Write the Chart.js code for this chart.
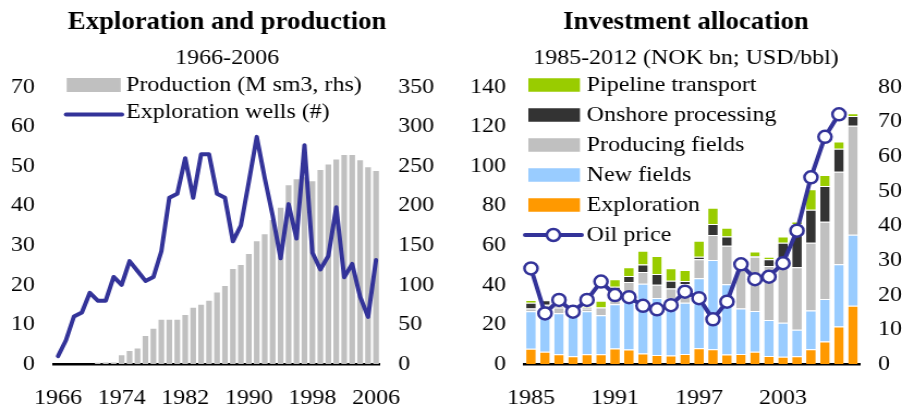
<!DOCTYPE html>
<html><head><meta charset="utf-8">
<script src="https://cdn.jsdelivr.net/npm/chart.js@4.4.1/dist/chart.umd.min.js"></script>
<style>
html,body{margin:0;padding:0;background:#fff;}
#wrap{position:relative;width:902px;height:414px;overflow:hidden;background:#fff;}
canvas{position:absolute;top:0;}
</style></head><body>
<div id="wrap">
<canvas id="c1" width="414" height="414" style="left:0px;width:451px;height:414px"></canvas>
<canvas id="c2" width="414" height="414" style="left:451px;width:451px;height:414px"></canvas>
</div>
<script>
// ---------- Left chart data ----------
const years1 = ['1966','1967','1968','1969','1970','1971','1972','1973','1974','1975',
  '1976','1977','1978','1979','1980','1981','1982','1983','1984','1985','1986','1987',
  '1988','1989','1990','1991','1992','1993','1994','1995','1996','1997','1998','1999',
  '2000','2001','2002','2003','2004','2005','2006'];
const production = [0,0,0,0,0,1.5,2,2,11,16.5,19.5,35.5,44.5,56,56,56,62,71,75,80,90.5,98.5,
  120,125,139,155,164,182,197.5,226,233.5,236,231,245,252,258.5,264,264,257.5,248.5,244];
const wells = [2,6,12,13,18,16,16,22,20,26,23.5,21,22,28.5,42,43,52,42,53,53,43,42,
  31,35,46,57.4,47,37.5,26.7,40.4,31.7,55.3,28.1,23.9,27.3,39.6,21.9,25.3,17,11.9,26.3];
const leftTickLabels = ['1966','1974','1982','1990','1998','2006'];

// ---------- Right chart data ----------
const years2 = ['1985','1986','1987','1988','1989','1990','1991','1992','1993','1994','1995',
  '1996','1997','1998','1999','2000','2001','2002','2003','2004','2005','2006','2007','2008'];
const exploration = [7.7,6.2,4.9,3.9,4.9,4.9,7.8,7.3,5.3,4.6,4.3,5.1,7.9,7.4,4.8,5.1,6.2,4.0,3.7,3.9,7.4,11.4,18.9,29.4];
const newFields   = [18.9,21.8,20.7,22.6,21.7,19.7,22.4,24.7,35.3,28.8,28.7,25.9,35.4,45.2,35.5,23.0,20.6,18.2,17.2,13.4,19.6,21.4,31.5,35.9];
const producing   = [1.5,2.0,2.9,1.5,1.5,3.9,6.3,9.5,5.9,6.7,5.2,9.3,9.6,12.6,19.5,20.9,27.4,27.3,27.5,31.6,34.3,39.1,46.8,55.1];
const onshore     = [2.9,2.2,0.5,0.5,0.5,0,2.6,3.0,3.8,5.4,3.9,1.7,1.3,5.5,4.6,0.5,0.3,3.4,12.9,21.9,16.7,18.1,11.6,5.0];
const pipeline    = [1.3,0.3,0.3,0.3,0.3,3.5,3.7,4.4,6.9,9.1,6.3,5.5,8.1,8.3,4.5,0.5,2.3,1.3,3.1,1.2,10.3,5.5,3.6,1.3];
const oilPrice    = [27.6,14.6,18.5,15.1,18.5,23.8,19.9,19.3,16.8,15.8,17.0,20.9,19.0,12.9,18.0,28.8,24.5,25.2,29.1,38.5,53.9,65.6,72.1,null];
const rightTickLabels = ['1985','1991','1997','2003'];

const F = "'Liberation Serif','Times New Roman',serif";
const tickFont = {family: F, size: 22};

const legendPlugin = {
  id: 'customLegend',
  afterDraw(chart, args, o) {
    const ctx = chart.ctx;
    ctx.save();
    ctx.font = o.fontSize + 'px ' + F;
    ctx.textBaseline = 'middle';
    ctx.textAlign = 'left';
    o.items.forEach((idx, i) => {
      const ds = chart.data.datasets[idx];
      const cy = o.y + i * o.rowH;
      let dy = 0;
      if (ds.type === 'line') {
        dy = o.lineTextDy;
        ctx.strokeStyle = ds.borderColor;
        ctx.lineWidth = ds.borderWidth;
        ctx.lineCap = 'round';
        ctx.beginPath();
        ctx.moveTo(o.lineX, cy); ctx.lineTo(o.lineX + o.lineW, cy); ctx.stroke();
        if (ds.pointRadius > 0) {
          ctx.beginPath();
          ctx.arc(o.lineX + o.lineW / 2, cy, ds.pointRadius, 0, Math.PI * 2);
          ctx.fillStyle = ds.pointBackgroundColor;
          ctx.fill();
          ctx.lineWidth = ds.pointBorderWidth;
          ctx.strokeStyle = ds.pointBorderColor;
          ctx.stroke();
        }
      } else {
        ctx.fillStyle = ds.backgroundColor;
        ctx.fillRect(o.x, cy - o.boxH / 2, o.boxW, o.boxH);
      }
      ctx.fillStyle = '#000';
      ctx.fillText(ds.label, o.textX, cy + dy);
    });
    ctx.restore();
  }
};

function tickCb(list) {
  return function(v) {
    const lab = this.getLabelForValue(v);
    return list.includes(lab) ? lab : '';
  };
}

const noGrid = {display: false, drawTicks: false};
const titleFont = {family: F, size: 24.5, weight: 'bold'};

new Chart(document.getElementById('c1'), {
  data: {
    labels: years1,
    datasets: [
      {type: 'line', label: 'Exploration wells (#)', data: wells, yAxisID: 'y',
       borderColor: '#333399', borderWidth: 4, pointRadius: 0, tension: 0,
       borderJoinStyle: 'round', borderCapStyle: 'round', order: 0},
      {type: 'bar', label: 'Production (M sm3, rhs)', data: production, yAxisID: 'y1',
       backgroundColor: '#C0C0C0', barPercentage: 0.72, categoryPercentage: 1, order: 1}
    ]
  },
  options: {
    responsive: false, animation: false,
    layout: {padding: {left: 3, right: 0, top: 0, bottom: 2}},
    plugins: {
      legend: {display: false}, tooltip: {enabled: false},
      title: {display: true, text: 'Exploration and production', color: '#000',
              font: titleFont, padding: {top: 7.5, bottom: 8.2}},
      subtitle: {display: true, text: '1966-2006', color: '#000',
              font: {family: F, size: 22}, padding: {top: 0, bottom: 15.5}},
      customLegend: {items: [1, 0], x: 61.2, y: 85, rowH: 29.5, boxW: 49.6, boxH: 14,
              lineX: 60.6, lineW: 51.4, textX: 115.7, lineTextDy: -2, fontSize: 22}
    },
    scales: {
      x: {grid: noGrid, border: {display: true, color: '#000', width: 2.5},
          ticks: {autoSkip: false, maxRotation: 0, minRotation: 0, padding: 21, font: tickFont, color: '#000',
                  callback: tickCb(leftTickLabels)},
          afterFit(s) { s.height = 48; }},
      y: {position: 'left', min: 0, max: 70, grid: noGrid, border: {display: false},
          ticks: {stepSize: 10, padding: 17.5, font: tickFont, color: '#000'},
          afterFit(s) { s.width = 46.6; }},
      y1: {position: 'right', min: 0, max: 350, grid: noGrid, border: {display: false},
          ticks: {stepSize: 50, padding: 16.8, font: tickFont, color: '#000'},
          afterFit(s) { s.width = 65.2; }}
    }
  },
  plugins: [legendPlugin]
});

const barCommon = {type: 'bar', yAxisID: 'y', barPercentage: 0.68, categoryPercentage: 1,
  borderColor: '#ffffff', borderWidth: {top: 1, left: 0, right: 0, bottom: 0}, borderSkipped: 'start', order: 1};

new Chart(document.getElementById('c2'), {
  data: {
    labels: years2,
    datasets: [
      Object.assign({label: 'Exploration', data: exploration, backgroundColor: '#FF9900'}, barCommon),
      Object.assign({label: 'New fields', data: newFields, backgroundColor: '#99CCFF'}, barCommon),
      Object.assign({label: 'Producing fields', data: producing, backgroundColor: '#C0C0C0'}, barCommon),
      Object.assign({label: 'Onshore processing', data: onshore, backgroundColor: '#333333'}, barCommon),
      Object.assign({label: 'Pipeline transport', data: pipeline, backgroundColor: '#99CC00'}, barCommon),
      {type: 'line', label: 'Oil price', data: oilPrice, yAxisID: 'y1',
       borderColor: '#333399', borderWidth: 4, tension: 0,
       pointRadius: 6, pointBackgroundColor: '#ffffff', pointBorderColor: '#333399', pointBorderWidth: 2.5,
       order: 0}
    ]
  },
  options: {
    responsive: false, animation: false,
    layout: {padding: {left: 17.4, right: 0, top: 0, bottom: 2}},
    plugins: {
      legend: {display: false}, tooltip: {enabled: false},
      title: {display: true, text: 'Investment allocation', color: '#000',
              font: titleFont, padding: {top: 7.5, bottom: 8.2}},
      subtitle: {display: true, text: '1985-2012 (NOK bn; USD/bbl)', color: '#000',
              font: {family: F, size: 22}, padding: {top: 0, bottom: 15.5}},
      customLegend: {items: [4, 3, 2, 1, 0, 5], x: 71, y: 85, rowH: 30, boxW: 47.4, boxH: 13.5,
              lineX: 68, lineW: 52, textX: 124.6, lineTextDy: 0, fontSize: 22}
    },
    scales: {
      x: {stacked: true, grid: noGrid, border: {display: true, color: '#000', width: 2.5},
          ticks: {autoSkip: false, maxRotation: 0, minRotation: 0, padding: 21, font: tickFont, color: '#000',
                  callback: tickCb(rightTickLabels)},
          afterFit(s) { s.height = 48; }},
      y: {stacked: true, position: 'left', min: 0, max: 140, grid: noGrid, border: {display: false},
          ticks: {stepSize: 20, padding: 16.5, font: tickFont, color: '#000'},
          afterFit(s) { s.width = 49.6; }},
      y1: {position: 'right', min: 0, max: 80, grid: noGrid, border: {display: false},
          ticks: {stepSize: 10, padding: 16.6, font: tickFont, color: '#000'},
          afterFit(s) { s.width = 38.6; }}
    }
  },
  plugins: [legendPlugin]
});
</script>
</body></html>
